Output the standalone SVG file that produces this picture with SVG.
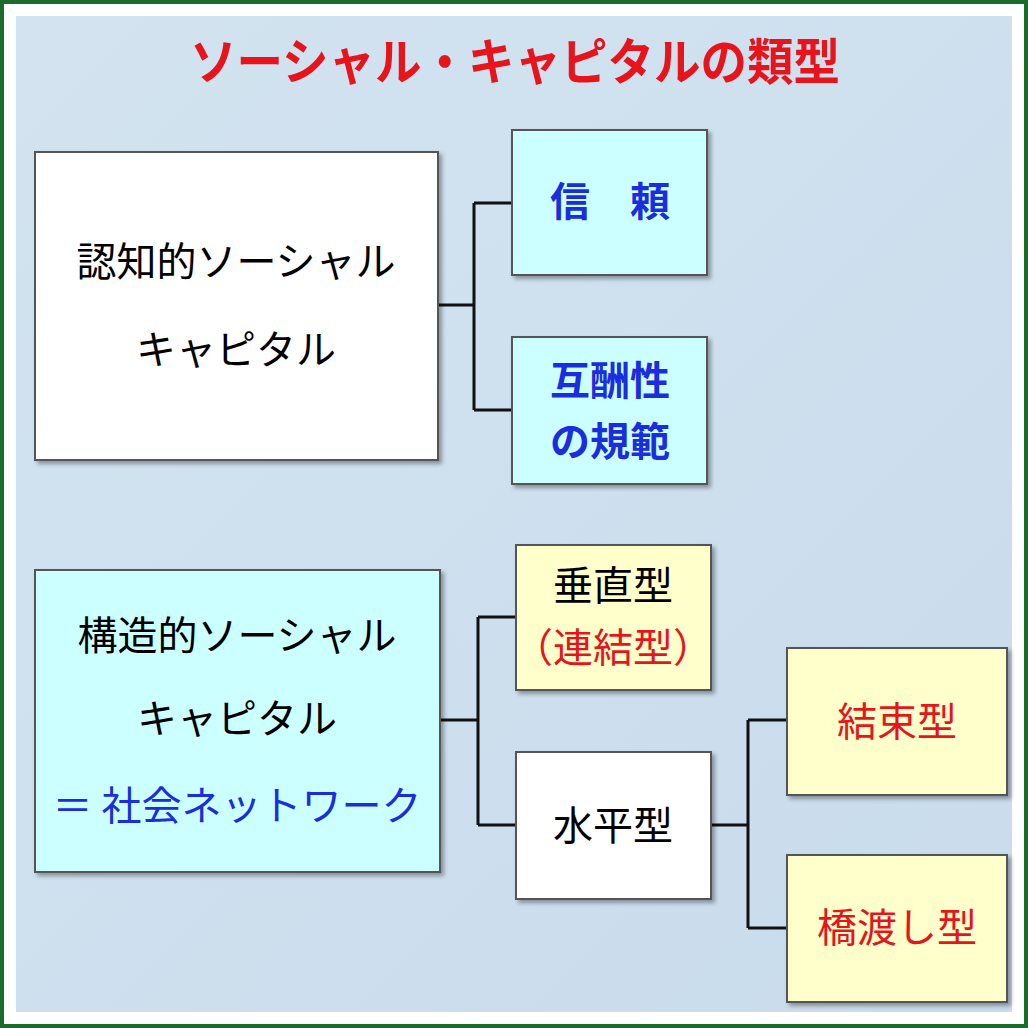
<svg xmlns="http://www.w3.org/2000/svg" width="1028" height="1028" viewBox="0 0 1028 1028">
<defs>
<filter id="sh" x="-10%" y="-10%" width="130%" height="130%"><feDropShadow dx="3" dy="3" stdDeviation="2" flood-color="#000" flood-opacity="0.35"/></filter>
<linearGradient id="bg" x1="0" y1="0" x2="1" y2="1"><stop offset="0" stop-color="#d3e3f0"/><stop offset="1" stop-color="#c9dcec"/></linearGradient>
</defs>
<style>
.box{stroke:#555;stroke-width:2;filter:url(#sh)}
.t{font-family:"Noto Sans CJK JP","Noto Sans",sans-serif;font-size:40px;text-anchor:middle}
.b{font-weight:bold}
.ln{stroke:#111;stroke-width:3;fill:none}
</style>
<rect x="0" y="0" width="1028" height="1028" fill="#fff"/>
<rect x="16" y="16" width="996" height="996" fill="url(#bg)"/>
<rect x="2" y="2" width="1024" height="1024" fill="none" stroke="#1b6b2c" stroke-width="4"/>
<text class="t b" x="515" y="80" style="font-size:50px" textLength="650" lengthAdjust="spacingAndGlyphs" fill="#e8141c">ソーシャル・キャピタルの類型</text>
<g id="connectors">
<path class="ln" d="M438 305H474M474 203V410M474 203H512M474 410H512"/>
<path class="ln" d="M440 720H478M478 617V825M478 617H516M478 825H516"/>
<path class="ln" d="M711 825H748M748 720V928M748 720H787M748 928H787"/>
</g>
<g id="n1"><rect class="box" x="35" y="152" width="403" height="308" fill="#fff"/>
<text class="t" x="236" y="276">認知的ソーシャル</text><text class="t" x="236" y="364">キャピタル</text></g>
<g id="n2"><rect class="box" x="512" y="130" width="195" height="145" fill="#ccffff"/>
<text class="t b" x="610" y="216" fill="#1a2ee0">信　頼</text></g>
<g id="n3"><rect class="box" x="512" y="337" width="195" height="147" fill="#ccffff"/>
<text class="t b" x="610" y="395" fill="#1a2ee0">互酬性</text><text class="t b" x="610" y="456" fill="#1a2ee0">の規範</text></g>
<g id="n4"><rect class="box" x="35" y="570" width="405" height="302" fill="#ccffff"/>
<text class="t" x="237" y="650">構造的ソーシャル</text><text class="t" x="237" y="733">キャピタル</text><text class="t" x="237" y="820" fill="#1a2ee0">＝ 社会ネットワーク</text></g>
<g id="n5"><rect class="box" x="516" y="545" width="195" height="145" fill="#ffffcc"/>
<text class="t" x="613" y="600">垂直型</text><text class="t" x="613" y="662" fill="#e8141c">（連結型）</text></g>
<g id="n6"><rect class="box" x="516" y="752" width="195" height="147" fill="#fff"/>
<text class="t" x="613" y="840">水平型</text></g>
<g id="n7"><rect class="box" x="787" y="648" width="220" height="147" fill="#ffffcc"/>
<text class="t" x="897" y="736" fill="#e8141c">結束型</text></g>
<g id="n8"><rect class="box" x="787" y="855" width="220" height="147" fill="#ffffcc"/>
<text class="t" x="897" y="942" fill="#e8141c">橋渡し型</text></g>
</svg>
